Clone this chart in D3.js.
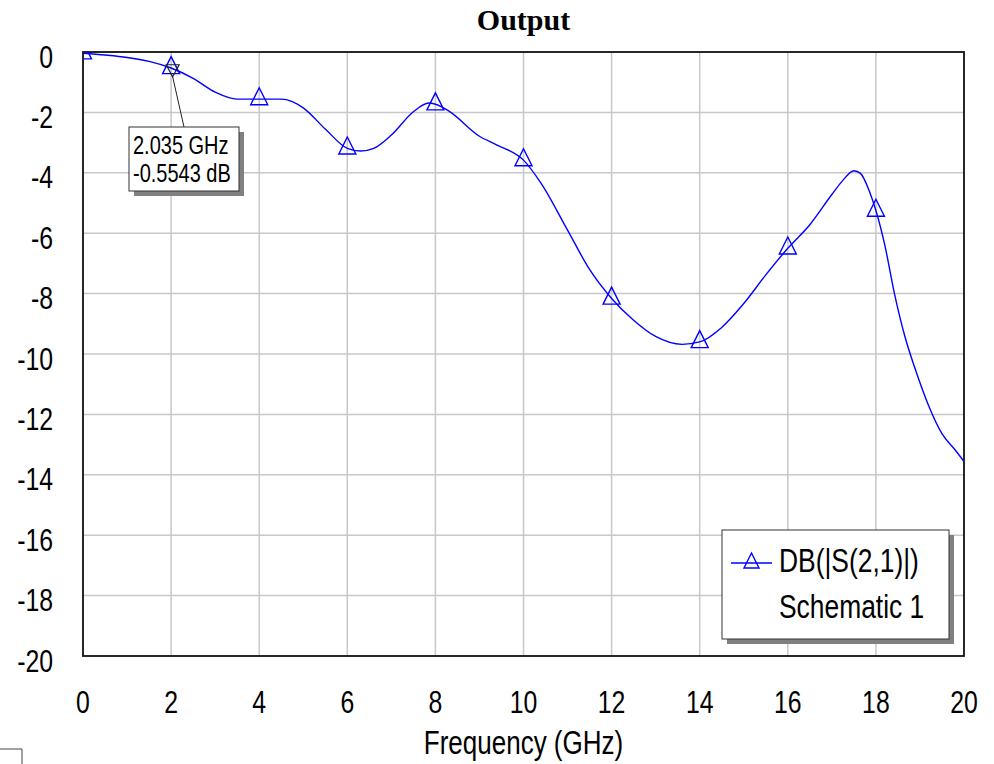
<!DOCTYPE html>
<html>
<head>
<meta charset="utf-8">
<script src="https://cdn.jsdelivr.net/npm/d3@7"></script>
<style>
  body { margin: 0; background: #fff; }
  svg { display: block; }
</style>
</head>
<body>
<svg id="chart" width="994" height="764"></svg>
<script>
// S21 magnitude trace, frequency in GHz and level in dB
const freqGHz = [0, 0.5, 1.0, 1.5, 2.0, 2.5, 3.0, 3.5, 4.0, 4.5, 4.75, 5.0, 5.5, 6.0, 6.3, 6.6, 7.0, 7.5, 7.85, 8.0, 8.3, 9.0, 9.4, 10.0,
                 10.4, 11.0, 11.5, 12.0, 12.5, 13.0, 13.6, 14.0, 14.5, 15.0, 15.5, 16.0, 16.5, 17.0, 17.25, 17.5, 17.65, 17.85,
                 18.0, 18.2, 18.42, 18.66, 18.9, 19.2, 19.5, 19.8, 20.0];
const dbS21 = [-0.04, -0.10, -0.18, -0.31, -0.53, -0.87, -1.33, -1.56, -1.56, -1.56, -1.64, -1.85, -2.55, -3.19, -3.28, -3.19, -2.75, -1.98, -1.69, -1.73, -1.95, -2.79, -3.08, -3.58,
               -4.35, -5.90, -7.20, -8.16, -8.88, -9.42, -9.68, -9.60, -9.12, -8.33, -7.38, -6.50, -5.72, -4.72, -4.25, -3.93, -4.02, -4.60,
               -5.25, -6.38, -7.99, -9.43, -10.53, -11.72, -12.64, -13.18, -13.56];

// symbols sit on every even-GHz sample up to 18 GHz
const symbolFreqs = [0, 2, 4, 6, 8, 10, 12, 14, 16, 18];

const xTicks = [0, 2, 4, 6, 8, 10, 12, 14, 16, 18, 20];
const yTicks = [0, -2, -4, -6, -8, -10, -12, -14, -16, -18, -20];

// readout marker
const markerFreq = 2.035;
const markerDb = -0.5543;

const chartTitle = "Output";
const xTitle = "Frequency (GHz)";
const traceName = "DB(|S(2,1)|)";
const sourceName = "Schematic 1";

const svg = d3.select("#chart");
const plot = { left: 83, top: 52, right: 964, bottom: 656 };

const x = d3.scaleLinear().domain([0, 20]).range([plot.left, plot.right]);
const y = d3.scaleLinear().domain([-20, 0]).range([plot.bottom, plot.top]);

// Pick a condensed sans face; fall back to squeezing the regular one
const probe = svg.append("g");
const tNarrow = probe.append("text").style("font-family", "'Liberation Sans Narrow'").style("font-size", "30px").text("Frequency (GHz)");
const tWide = probe.append("text").style("font-family", "'Liberation Sans'").style("font-size", "30px").text("Frequency (GHz)");
const ratio = tNarrow.node().getComputedTextLength() / tWide.node().getComputedTextLength();
probe.remove();
const hasNarrow = ratio < 0.9;
const sansFamily = hasNarrow ? "'Liberation Sans Narrow', 'Arial Narrow', sans-serif" : "'Liberation Sans', Arial, sans-serif";
const squeeze = hasNarrow ? 0.975 : 0.8;

function label(g, px, py, str, anchor, size) {
  return g.append("text")
    .attr("transform", `translate(${px},${py}) scale(${squeeze},1)`)
    .attr("text-anchor", anchor)
    .style("font-family", sansFamily)
    .style("font-size", size + "px")
    .attr("fill", "#000")
    .text(str);
}

// Grid
const grid = svg.append("g");
grid.selectAll("line.v").data(xTicks.filter(d => d > 0 && d < 20)).join("line")
  .attr("x1", d => x(d)).attr("x2", d => x(d))
  .attr("y1", plot.top).attr("y2", plot.bottom)
  .attr("stroke", "#c8c8c8").attr("stroke-width", 1.5);
grid.selectAll("line.h").data(yTicks.filter(d => d < 0 && d > -20)).join("line")
  .attr("x1", plot.left).attr("x2", plot.right)
  .attr("y1", d => y(d)).attr("y2", d => y(d))
  .attr("stroke", "#c8c8c8").attr("stroke-width", 1.5);

// Frame
svg.append("rect")
  .attr("x", plot.left).attr("y", plot.top)
  .attr("width", plot.right - plot.left).attr("height", plot.bottom - plot.top)
  .attr("fill", "none").attr("stroke", "#111").attr("stroke-width", 1.8);

// Tick labels
const axes = svg.append("g");
yTicks.forEach(v => label(axes, 53, y(v) + 15.5, String(v), "end", 31));
xTicks.forEach(v => label(axes, x(v), 713, String(v), "middle", 31));

// Titles
svg.append("text")
  .attr("x", (plot.left + plot.right) / 2).attr("y", 30)
  .attr("text-anchor", "middle")
  .style("font-family", "'Liberation Serif', 'Times New Roman', serif")
  .style("font-weight", "bold").style("font-size", "30px")
  .text(chartTitle);
label(svg, (plot.left + plot.right) / 2, 754, xTitle, "middle", 32.5);

// Trace
svg.append("clipPath").attr("id", "plotClip")
  .append("rect").attr("x", plot.left).attr("y", plot.top)
  .attr("width", plot.right - plot.left).attr("height", plot.bottom - plot.top);

const series = freqGHz.map((f, i) => ({ f, v: dbS21[i] }));
const line = d3.line().x(d => x(d.f)).y(d => y(d.v)).curve(d3.curveMonotoneX);

const traceG = svg.append("g").attr("clip-path", "url(#plotClip)");
traceG.append("path").datum(series)
  .attr("d", line).attr("fill", "none")
  .attr("stroke", "#0000ff").attr("stroke-width", 1.4);

// Triangle symbol, centroid at origin
const triUp = s => `M0,${-s * 0.667}L${s * 0.5},${s * 0.333}L${-s * 0.5},${s * 0.333}Z`;
const symbolPts = series.filter(d => symbolFreqs.includes(d.f));
traceG.selectAll("path.sym").data(symbolPts).join("path")
  .attr("class", "sym")
  .attr("transform", d => `translate(${x(d.f)},${y(d.v)})`)
  .attr("d", triUp(17))
  .attr("fill", "none").attr("stroke", "#0000ff").attr("stroke-width", 1.4);

// Readout marker with callout box
const mx = x(markerFreq), my = y(markerDb);
svg.append("path")
  .attr("transform", `translate(${mx},${my})`)
  .attr("d", "M-6.5,-4L6.5,-4L0,8Z")
  .attr("fill", "none").attr("stroke", "#222").attr("stroke-width", 1.2);
const box = { x: 129, y: 127, w: 110, h: 64 };
svg.append("line")
  .attr("x1", mx).attr("y1", my + 8)
  .attr("x2", box.x + 55).attr("y2", box.y)
  .attr("stroke", "#222").attr("stroke-width", 1);
svg.append("rect")
  .attr("x", box.x + 5).attr("y", box.y + 5).attr("width", box.w).attr("height", box.h)
  .attr("fill", "#808080");
svg.append("rect")
  .attr("x", box.x).attr("y", box.y).attr("width", box.w).attr("height", box.h)
  .attr("fill", "#fff").attr("stroke", "#333").attr("stroke-width", 1);
label(svg, box.x + 4, box.y + 27, `${markerFreq} GHz`, "start", 25);
label(svg, box.x + 4, box.y + 55, `${markerDb} dB`, "start", 25);

// Legend
const lg = { x: 722, y: 530, w: 227, h: 109 };
svg.append("rect")
  .attr("x", lg.x + 5).attr("y", lg.y + 5).attr("width", lg.w).attr("height", lg.h)
  .attr("fill", "#808080");
svg.append("rect")
  .attr("x", lg.x).attr("y", lg.y).attr("width", lg.w).attr("height", lg.h)
  .attr("fill", "#fff").attr("stroke", "#333").attr("stroke-width", 1);
svg.append("line")
  .attr("x1", lg.x + 9).attr("x2", lg.x + 50)
  .attr("y1", lg.y + 33).attr("y2", lg.y + 33)
  .attr("stroke", "#0000ff").attr("stroke-width", 1.4);
svg.append("path")
  .attr("transform", `translate(${lg.x + 29.5},${lg.y + 33})`)
  .attr("d", triUp(15))
  .attr("fill", "none").attr("stroke", "#0000ff").attr("stroke-width", 1.4);
label(svg, lg.x + 57, lg.y + 42, traceName, "start", 33);
label(svg, lg.x + 57, lg.y + 88, sourceName, "start", 33);

// Stray window corner at the bottom-left edge
svg.append("path")
  .attr("d", "M0,749H22V764")
  .attr("fill", "none").attr("stroke", "#444").attr("stroke-width", 1);
</script>
</body>
</html>
